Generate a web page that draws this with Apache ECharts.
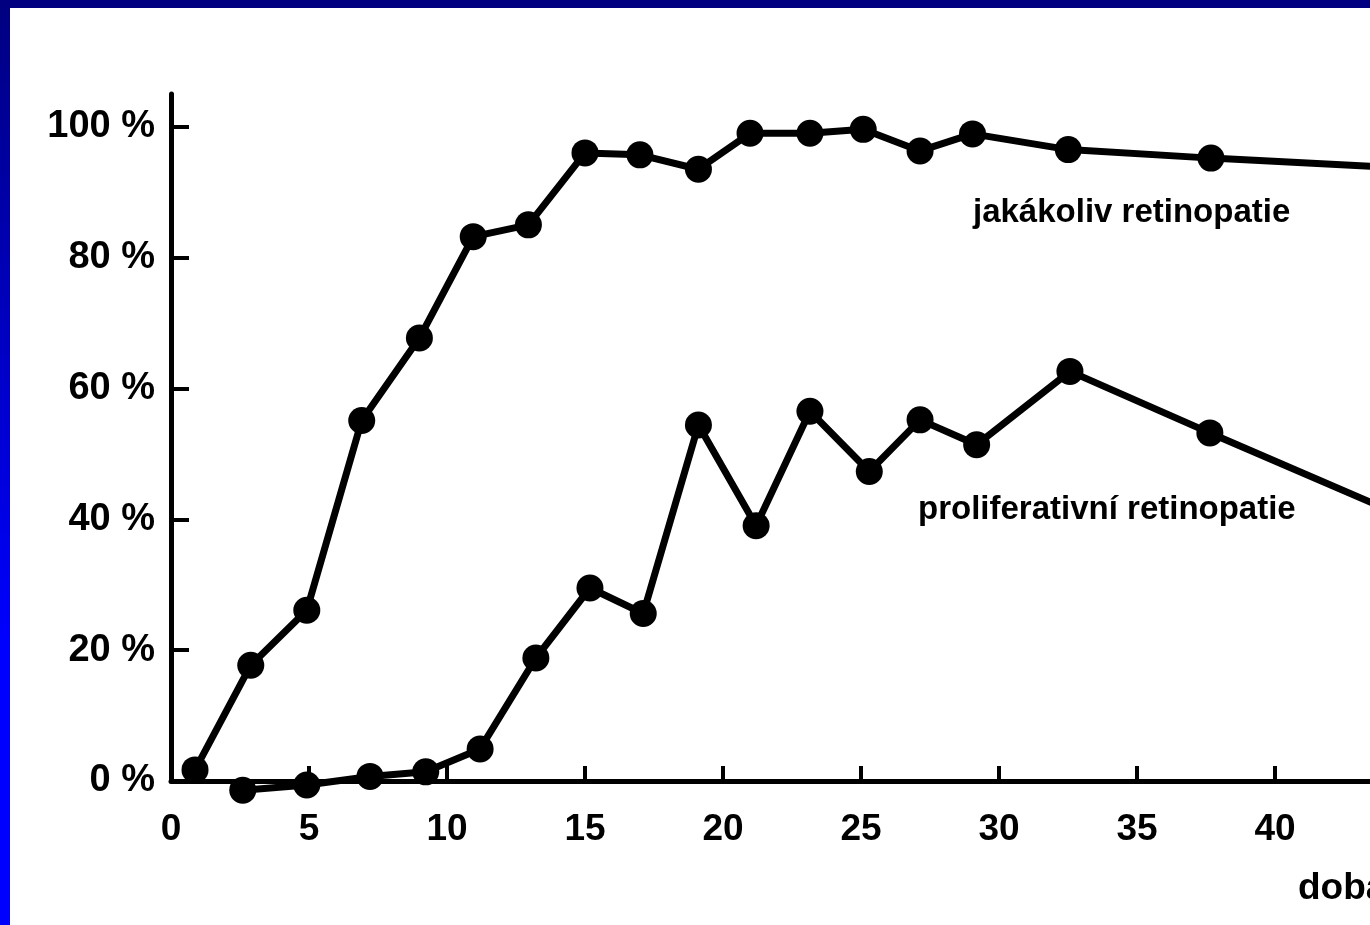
<!DOCTYPE html>
<html>
<head>
<meta charset="utf-8">
<script src="https://cdn.jsdelivr.net/npm/echarts@6/dist/echarts.min.js"></script>
<style>
  html, body { margin: 0; padding: 0; }
  body {
    width: 1370px; height: 925px; overflow: hidden; position: relative;
    background: linear-gradient(to bottom, #000080 0%, #0000ff 70%, #0000ff 100%);
  }
  #chart { position: absolute; left: 10px; top: 8px; width: 1360px; height: 917px; background: #fff; }
</style>
</head>
<body>
<div id="chart"></div>
<script>
// jakákoliv retinopatie (any retinopathy)
const anyYears = [0.87, 2.89, 4.92, 6.91, 9.0, 10.95, 12.95, 15.0, 16.99, 19.11, 20.98, 23.15, 25.08, 27.14, 29.04, 32.51, 37.68, 45];
const anyPct = [1.7, 17.7, 26.1, 55.1, 67.7, 83.2, 85.0, 96.0, 95.7, 93.5, 99.0, 99.0, 99.6, 96.3, 98.9, 96.5, 95.2, 93.6];

// proliferativní retinopatie
const prolYears = [2.6, 4.92, 7.21, 9.23, 11.2, 13.22, 15.18, 17.11, 19.11, 21.2, 23.15, 25.3, 27.14, 29.19, 32.57, 37.64, 45];
const prolPct = [-1.4, -0.6, 0.7, 1.4, 4.9, 18.8, 29.5, 25.6, 54.4, 39.0, 56.5, 47.3, 55.2, 51.4, 62.6, 53.2, 39.8];

const xTicks = [0, 5, 10, 15, 20, 25, 30, 35, 40, 45];
const yTicks = [0, 20, 40, 60, 80, 100];

const anyLabel = 'jakákoliv retinopatie';
const prolLabel = 'proliferativní retinopatie';
const xName = 'doba trvání diabetu';

const FONT = 'Liberation Sans';

function pairs(xs, ys) {
  return xs.map((x, i) => [x, ys[i]]);
}

const chart = echarts.init(document.getElementById('chart'));

const lineSeries = (name, data) => ({
  name,
  type: 'line',
  data,
  clip: false,
  symbol: 'circle',
  symbolSize: 27,
  itemStyle: { color: '#000' },
  lineStyle: { color: '#000', width: 7 },
  emphasis: { disabled: true },
  z: 5
});

const option = {
  animation: false,
  backgroundColor: '#fff',
  grid: { left: 161, right: -43, top: 86, bottom: 144, outerBoundsMode: 'none' },
  xAxis: {
    type: 'value',
    min: 0,
    max: 45,
    offset: 4,
    axisLine: { lineStyle: { color: '#000', width: 5 } },
    axisTick: { inside: true, length: 15, customValues: xTicks.slice(1), lineStyle: { color: '#000', width: 4 } },
    axisLabel: {
      customValues: xTicks,
      margin: 26,
      color: '#000',
      fontFamily: FONT,
      fontWeight: 'bold',
      fontSize: 37
    },
    splitLine: { show: false }
  },
  yAxis: {
    type: 'value',
    min: 0,
    max: 105,
    axisLine: { show: true, lineStyle: { color: '#000', width: 5 } },
    axisTick: { show: true, inside: true, length: 18, customValues: yTicks.slice(1), lineStyle: { color: '#000', width: 4 } },
    axisLabel: {
      customValues: yTicks,
      margin: 16,
      color: '#000',
      fontFamily: FONT,
      fontWeight: 'bold',
      fontSize: 38,
      formatter: v => v + ' %'
    },
    splitLine: { show: false }
  },
  graphic: [
    {
      type: 'text', left: 963, top: 188,
      style: { text: anyLabel, fill: '#000', font: 'bold 33px "' + FONT + '"' }
    },
    {
      type: 'text', left: 908, top: 485,
      style: { text: prolLabel, fill: '#000', font: 'bold 33px "' + FONT + '"' }
    },
    {
      type: 'text', left: 1288, top: 862,
      style: { text: xName, fill: '#000', font: 'bold 37px "' + FONT + '"' }
    }
  ],
  series: [
    lineSeries(anyLabel, pairs(anyYears, anyPct)),
    lineSeries(prolLabel, pairs(prolYears, prolPct))
  ]
};

chart.setOption(option);
</script>
</body>
</html>
